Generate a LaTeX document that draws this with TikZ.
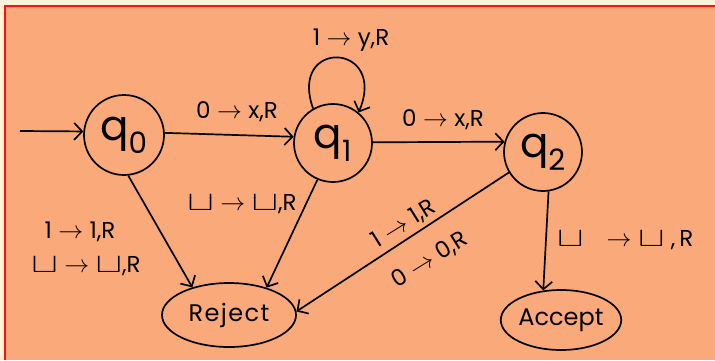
\documentclass[tikz,border=0pt]{standalone}
\usepackage{fontspec}
\setmainfont{Poppins}
\usetikzlibrary{arrows.meta,shapes.geometric}
\definecolor{paper}{HTML}{FFF3D8}
\definecolor{board}{HTML}{FAAA7A}
\definecolor{frame}{HTML}{FF1010}
% hand-written blank symbol and transition arrow
\newcommand\blk{\scalebox{1.6}[1.1]{$\sqcup$}}
\newcommand\goes{\;$\rightarrow$\;}
\begin{document}
\begin{tikzpicture}[x=1pt,y=-1pt,
  ink/.style={line width=1.7pt, draw=black},
  state/.style={ink, circle, minimum size=80pt, inner sep=0pt,
    font=\fontsize{42}{42}\selectfont},
  halt/.style={ink, ellipse, inner sep=0pt, font=\fontsize{24}{24}\selectfont},
  move/.style={ink, -{Straight Barb[length=8pt,width=17pt,line width=1.7pt]}},
  lbl/.style={font=\fontsize{23}{26}\selectfont, inner sep=0pt}
]
\useasboundingbox (0,0) rectangle (715,360);
\fill[paper] (0,0) rectangle (715,360);
\fill[board] (5,6) rectangle (715,360);
\draw[frame, line width=1.3pt] (5,360) -- (5,6) -- (715,6);

% states
\node[state] (q0) at (124,135) {q\textsubscript{0}};
\node[state, minimum size=78pt] (q1) at (333,143) {q\textsubscript{1}};
\node[state, minimum size=78pt] (q2) at (543,152) {q\textsubscript{2}};
\node[halt, minimum width=134pt, minimum height=64pt] (rej) at (229,315)
  {\addfontfeature{LetterSpace=6}Reject};
\node[halt, minimum width=108pt, minimum height=60pt] (acc) at (561,320) {Accept};

% transitions
\coordinate (start) at (20,131);
\draw[move] (start) -- (q0.175);
\draw[move] (q0.3) -- (q1.171);
\draw[move] (q1.1) -- (q2.165);
\draw[move] (q1.120) .. controls (288,38) and (388,42) .. (q1.50);
\draw[move] (q0.-84) -- (rej.143);
\draw[move] (q1.-113) -- (rej.36);
\draw[move] (q2.211) -- (rej.3);
\draw[move] (q2.-82) -- (acc.121);

% transition labels
\node[lbl] (l1) at (351,40) {1\goes y,R};
\node[lbl] (l2) at (237,112) {0\goes x,R};
\node[lbl] (l3) at (443,120) {0\goes x,R};
\node[lbl] (l4) at (242,204) {\blk\goes\blk,R};
\node[lbl] (l5) at (80,232) {1\goes 1,R};
\node[lbl] (l6) at (86,266) {\blk\goes\blk,R};
\node[lbl, rotate=32] (l7) at (404,224) {1\goes 1,R};
\node[lbl, rotate=32] (l8) at (430,260) {0\goes 0,R};
\node[lbl, anchor=west] (l9) at (557,240) {\blk\quad$\rightarrow$\;\blk\;,\,R};
\end{tikzpicture}
\end{document}
